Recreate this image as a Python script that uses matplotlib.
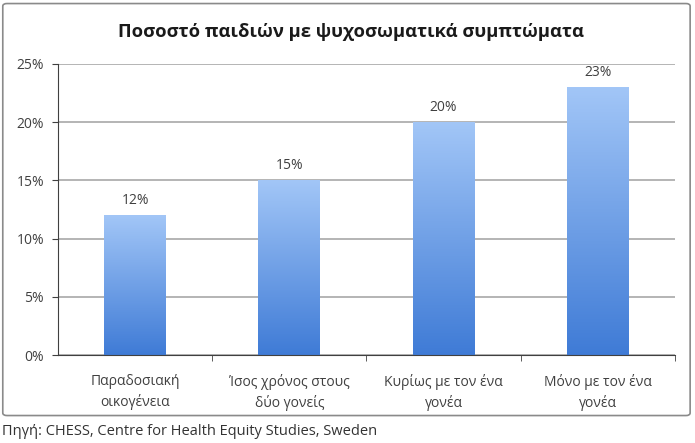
import numpy as np
import matplotlib
matplotlib.use('Agg')
from matplotlib import pyplot as plt
from matplotlib.patches import FancyBboxPatch
from matplotlib.colors import LinearSegmentedColormap

plt.rcParams['font.family'] = ['Open Sans', 'DejaVu Sans']

categories = ['Παραδοσιακή\nοικογένεια', 'Ίσος χρόνος στους\nδύο γονείς',
              'Κυρίως με τον ένα\nγονέα', 'Μόνο με τον ένα\nγονέα']
values = [12, 15, 20, 23]
yticks = [0, 5, 10, 15, 20, 25]
title = 'Ποσοστό παιδιών με ψυχοσωματικά συμπτώματα'
source = 'Πηγή: CHESS, Centre for Health Equity Studies, Sweden'

txt = '#404040'
grad = LinearSegmentedColormap.from_list('g', ['#3f7bd6', '#a2c6f7'])

fig = plt.figure(figsize=(6.95, 4.43), dpi=100)
frame = FancyBboxPatch((0.004, 0.062), 0.989, 0.93, boxstyle='round,pad=0,rounding_size=0.006',
                       transform=fig.transFigure, fill=False, edgecolor='#8a8a8a', lw=1.2)
fig.patches.append(frame)

ax = fig.add_axes([0.0835, 0.1986, 0.8875, 0.657])

w = 0.4
g = np.linspace(0, 1, 256).reshape(-1, 1)
for i, v in enumerate(values):
    ax.imshow(g, cmap=grad, origin='lower', aspect='auto',
              extent=(i - w / 2, i + w / 2, 0, v), zorder=2)
    ax.text(i, v + 0.6, f'{v}%', ha='center', va='bottom', fontsize=10, color=txt)
ax.set_xlim(-0.5, 3.5)
ax.set_ylim(0, 25)

ax.set_yticks(yticks)
ax.set_yticklabels([f'{t}%' for t in yticks], fontsize=10, color=txt)
ax.yaxis.grid(True, color='#a0a0a0', lw=1.1)
ax.set_axisbelow(True)
ax.set_xticks(range(len(categories)))
ax.set_xticklabels(categories, fontsize=10, color=txt, linespacing=1.4)
ax.set_xticks([0.5, 1.5, 2.5, 3.5], minor=True)
ax.tick_params(axis='x', which='major', length=0, pad=14)
ax.tick_params(axis='x', which='minor', length=4, color='#404040')
ax.tick_params(axis='y', length=4, color='#404040', pad=6)
for s in ['top', 'right']:
    ax.spines[s].set_visible(False)
ax.spines['left'].set_color('#404040')
ax.spines['bottom'].set_color('#404040')

fig.text(0.505, 0.928, title, ha='center', va='center', fontsize=13.2, fontweight='bold', color='#1a1a1a')
fig.text(0.003, 0.025, source, ha='left', va='center', fontsize=10.5, color='#333333')

fig.savefig('out.png', dpi=100)
